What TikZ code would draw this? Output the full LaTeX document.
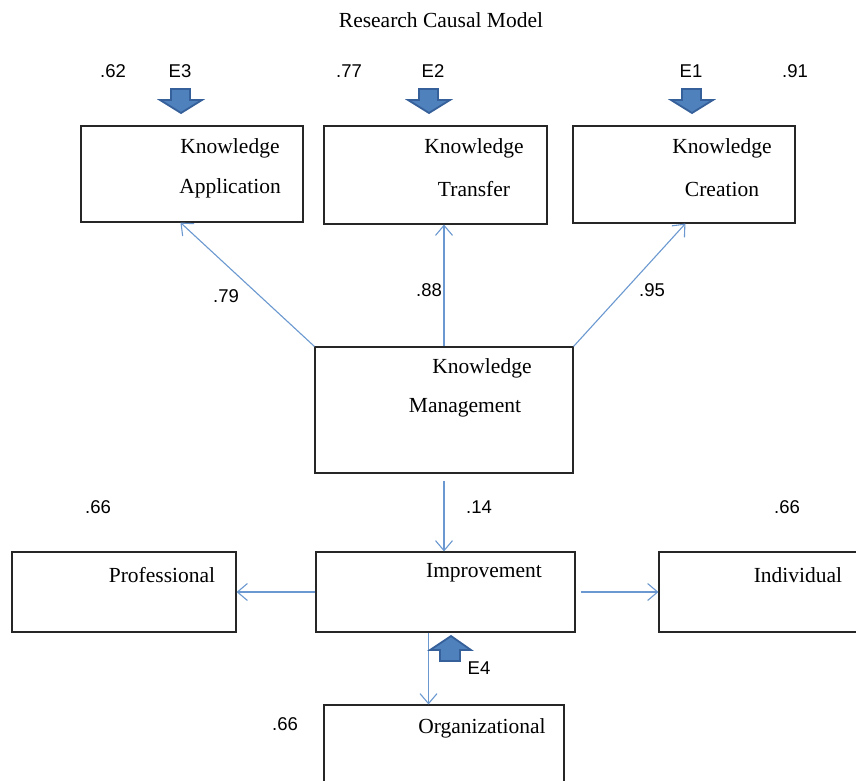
\documentclass[tikz,border=0pt]{standalone}
\usepackage{fontspec}
\setmainfont{Liberation Serif}
\newfontfamily\numfont{Liberation Sans}
\usetikzlibrary{arrows.meta,calc}
\definecolor{linkblue}{HTML}{6B98D0}
\definecolor{blockfill}{HTML}{4F81BD}
\definecolor{blockedge}{HTML}{36609A}
\tikzset{
  box/.style={draw=black!85, line width=1.1pt, rectangle, inner sep=0pt},
  boxtext/.style={font=\fontsize{21.5}{24}\selectfont, inner sep=0pt, anchor=center},
  numtext/.style={font=\numfont\fontsize{18.5}{22}\selectfont, inner sep=0pt, anchor=center},
  link/.style={draw=linkblue, line width=1.1pt, -{Straight Barb[length=10pt,width=17pt,line width=1.1pt]}},
  blockarrow/.style={fill=blockfill, draw=blockedge, line width=1.8pt, line join=miter}
}
\begin{document}
\begin{tikzpicture}[x=1pt,y=-1pt]
\useasboundingbox[fill=white] (0,0) rectangle (856,781);
% title
\node[boxtext] (title) at (441,20) {Research Causal Model};
% top boxes
\node[box, minimum width=222pt, minimum height=96pt] (ka) at (192,174) {};
\node[box, minimum width=223pt, minimum height=98pt] (kt) at (435.5,175) {};
\node[box, minimum width=222pt, minimum height=97pt] (kc) at (684,174.5) {};
\node[boxtext] (kat1) at (230,148) {Knowledge};
\node[boxtext] (kat2) at (230,188) {Application};
\node[boxtext] (ktt1) at (474,148) {Knowledge};
\node[boxtext] (ktt2) at (474,189) {Transfer};
\node[boxtext] (kct1) at (722,148) {Knowledge};
\node[boxtext] (kct2) at (722,189) {Creation};
% middle box
\node[box, minimum width=258pt, minimum height=126pt] (km) at (444,410) {};
\node[boxtext] (kmt1) at (482,368) {Knowledge};
\node[boxtext] (kmt2) at (465,408) {Management};
% lower row
\node[box, minimum width=224pt, minimum height=80pt] (prof) at (124,592) {};
\node[box, minimum width=259pt, minimum height=80pt] (imp) at (445.5,592) {};
\node[box, minimum width=240pt, minimum height=80pt] (ind) at (779,592) {};
\node[box, minimum width=240pt, minimum height=100pt] (org) at (444,755) {};
\node[boxtext] (proft) at (162,575) {Professional};
\node[boxtext] (impt) at (484,573) {Improvement};
\node[boxtext] (indt) at (798,575) {Individual};
\node[boxtext] (orgt) at (482,728) {Organizational};
% numbers
\node[numtext] (n62) at (113,71) {.62};
\node[numtext] (e3) at (180,71) {E3};
\node[numtext] (n77) at (349,71) {.77};
\node[numtext] (e2) at (433,71) {E2};
\node[numtext] (e1) at (691,71) {E1};
\node[numtext] (n91) at (795,71) {.91};
\node[numtext] (n79) at (226,296) {.79};
\node[numtext] (n88) at (429,290) {.88};
\node[numtext] (n95) at (652,290) {.95};
\node[numtext] (n66a) at (98,507) {.66};
\node[numtext] (n14) at (479,507) {.14};
\node[numtext] (n66b) at (787,507) {.66};
\node[numtext] (n66c) at (285,724) {.66};
\node[numtext] (e4) at (479,668) {E4};
% connectors
\draw[link] (km.north west) -- ($(ka.south west)+(100,0)$);
\draw[link] (km.north) -- (km.north |- kt.south);
\draw[link] (km.north east) -- ($(kc.south west)+(113,0)$);
\draw[link, shorten <=7pt] (km.south) -- (km.south |- imp.north);
\draw[link] (imp.west) -- (prof.east);
\draw[link, shorten <=5pt] (imp.east) -- (ind.west);
\coordinate (impout) at ($(imp.south)+(-17,0)$);
\draw[link] (impout) -- (impout |- org.north);
% block arrows (down)
\foreach \cx in {181,429,692}{
  \draw[blockarrow] (\cx-10,89) -- (\cx+9,89) -- (\cx+9,100) -- (\cx+21,100) -- (\cx,113) -- (\cx-21,100) -- (\cx-10,100) -- cycle;
}
% block arrow (up) E4
\draw[blockarrow] (440,661) -- (460,661) -- (460,650) -- (471,650) -- (451,636) -- (430,650) -- (440,650) -- cycle;
\end{tikzpicture}
\end{document}
